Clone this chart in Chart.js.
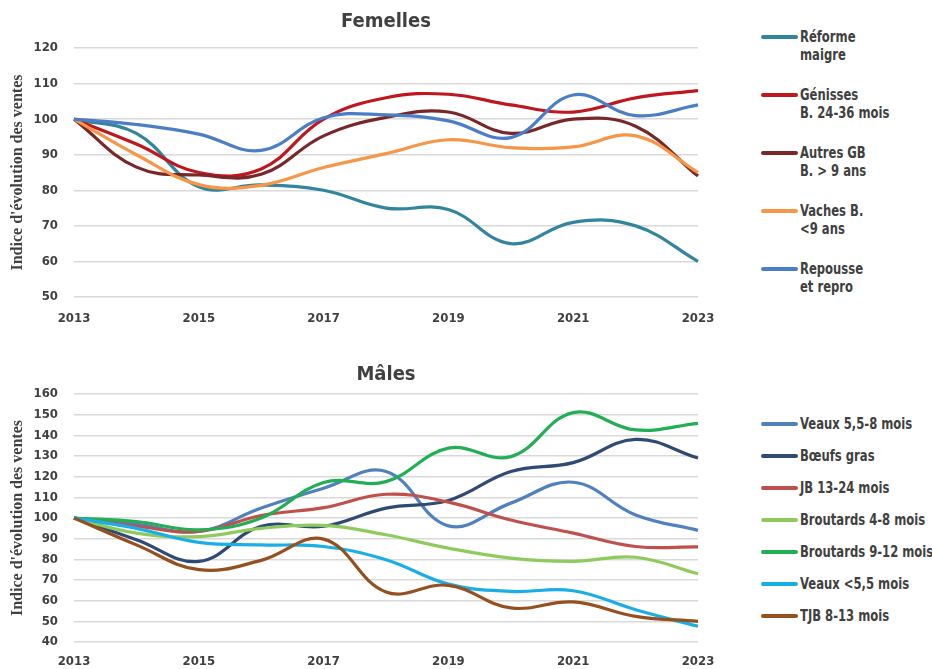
<!DOCTYPE html>
<html>
<head>
<meta charset="utf-8">
<script src="https://cdn.jsdelivr.net/npm/chart.js@4.4.1/dist/chart.umd.min.js"></script>
<style>
  body { margin: 0; background: #fff; }
  #wrap { position: relative; width: 932px; height: 669px; overflow: hidden; }
  .box { position: absolute; left: 0; width: 760px; }
  #boxF { top: 0; height: 330px; }
  #boxM { top: 340px; height: 329px; }
  .legend { position: absolute; left: 761px; margin: 0; padding: 0; list-style: none;
    font-family: 'DejaVu Sans Condensed', sans-serif; font-weight: bold;
    font-size: 15px; color: #404040; }
  .legend li { position: relative; padding-left: 39px; line-height: 18px; white-space: nowrap; }
  .legend li span.sw { position: absolute; left: 0; top: 7px; width: 37px; height: 4px; border-radius: 2px; }
  .legend li span.tx { display: inline-block; white-space: pre; transform: scaleX(0.86); transform-origin: 0 0; }
  #legF { top: 28px; }
  #legF li { margin-bottom: 22px; }
  #legM { top: 415px; }
  #legM li { margin-bottom: 14px; }
</style>
</head>
<body>
<div id="wrap">
  <div class="box" id="boxF"><canvas id="chartF"></canvas></div>
  <div class="box" id="boxM"><canvas id="chartM"></canvas></div>
  <ul class="legend" id="legF"></ul>
  <ul class="legend" id="legM"></ul>
</div>
<script>
//Donnees
const years = ["2013","2014","2015","2016","2017","2018","2019","2020","2021","2022","2023"];

const femLabels = ["Réforme\nmaigre", "Génisses\nB. 24-36 mois", "Autres GB\nB. > 9 ans", "Vaches B.\n<9 ans", "Repousse\net repro"];
const femColors = ["#31859C", "#C0161E", "#782828", "#F79646", "#4A7EC6"];
const reformeMaigre = [100, 96, 81, 81.5, 80, 75, 74.6, 65, 71, 70, 60];
const genisses = [100, 93, 85, 86, 100, 106, 107, 104, 102, 106, 108];
const autresGB = [100, 86.5, 84.3, 84.5, 95.3, 100.5, 102, 96, 100, 98, 84];
const vachesB = [100, 90, 81.6, 81.4, 86.4, 90.3, 94.2, 92, 92.2, 95.3, 85];
const repousse = [100, 98.5, 95.8, 91.2, 100.4, 101.2, 99.5, 94.8, 106.8, 101, 104];

const maleLabels = ["Veaux 5,5-8 mois", "Bœufs gras", "JB 13-24 mois", "Broutards 4-8 mois", "Broutards 9-12 mois", "Veaux <5,5 mois", "TJB 8-13 mois"];
const maleColors = ["#4F81BD", "#2F4A75", "#C0504D", "#8FCB5C", "#22AE52", "#1AAEE6", "#94501E"];
const veaux558 = [100, 97, 93.5, 104.8, 114.4, 122.5, 96.2, 107.2, 117.3, 101.5, 94];
const boeufsGras = [100, 89.5, 79, 96, 96, 104.8, 108.5, 122.5, 126.8, 138, 129];
const jb1324 = [100, 96, 93.5, 101.2, 105, 111.5, 107.7, 99, 92.7, 86.2, 86];
const broutards48 = [100, 92.7, 91, 95, 96.4, 91.9, 85.4, 80.6, 79, 81, 73];
const broutards912 = [100, 98.3, 94.3, 100, 117.2, 117.6, 133.8, 129.7, 151, 142.6, 145.8];
const veauxMoins55 = [100, 95, 88.2, 87, 86.2, 79.8, 68, 64.5, 64.8, 55.6, 47.6];
const tjb813 = [100, 87, 75, 79.5, 89.8, 64.2, 67.4, 56.5, 59.4, 52.4, 50];

const TEXT = "#404040";
const NARROW = "'DejaVu Sans Condensed', sans-serif";

function makeDatasets(labels, colors, series) {
  return series.map((s, i) => ({
    label: labels[i],
    data: s,
    borderColor: colors[i],
    backgroundColor: colors[i],
    borderWidth: 3.2,
    pointRadius: 0,
    tension: 0.4,
    order: series.length - i
  }));
}

function makeChart(id, title, datasets, yMin, yMax, titlePad, axisH, xPad) {
  return new Chart(document.getElementById(id), {
    type: "line",
    data: { labels: years, datasets },
    options: {
      responsive: true,
      maintainAspectRatio: false,
      animation: false,
      layout: { padding: { left: 0, right: 62, top: 0, bottom: 0 } },
      plugins: {
        legend: { display: false },
        tooltip: { enabled: false },
        title: {
          display: true,
          fullSize: false,
          text: title,
          color: TEXT,
          font: { family: NARROW, size: 20, weight: "bold", lineHeight: 1.2 },
          padding: titlePad
        }
      },
      scales: {
        x: {
          grid: { display: false },
          border: { display: false },
          afterFit: s => { s.height = axisH; },
          ticks: {
            autoSkip: false,
            maxRotation: 0,
            padding: xPad,
            color: TEXT,
            font: { family: NARROW, size: 13, weight: "bold" },
            callback: (v, i) => (i % 2 === 0 ? years[i] : "")
          }
        },
        y: {
          min: yMin,
          max: yMax,
          afterFit: s => { s.width = 74; },
          border: { display: false },
          grid: { color: "#D9D9D9", lineWidth: 1.5, drawTicks: false },
          ticks: {
            stepSize: 10,
            padding: 16,
            color: TEXT,
            font: { family: NARROW, size: 13, weight: "bold" }
          },
          title: {
            display: true,
            text: "Indice d'évolution des ventes",
            color: TEXT,
            padding: { top: 8, bottom: 0 },
            font: { family: "'Liberation Serif', serif", size: 16, weight: "bold" }
          }
        }
      }
    }
  });
}

function renderLegend(ulId, chart) {
  document.getElementById(ulId).innerHTML = chart.data.datasets
    .map(d => `<li><span class="sw" style="background:${d.borderColor}"></span><span class="tx">${d.label}</span></li>`)
    .join("");
}

const chartF = makeChart("chartF", "Femelles",
  makeDatasets(femLabels, femColors, [reformeMaigre, genisses, autresGB, vachesB, repousse]),
  50, 120, { top: 10, bottom: 14 }, 33, 6);

const chartM = makeChart("chartM", "Mâles",
  makeDatasets(maleLabels, maleColors, [veaux558, boeufsGras, jb1324, broutards48, broutards912, veauxMoins55, tjb813]),
  40, 160, { top: 23, bottom: 7 }, 27, 4);

renderLegend("legF", chartF);
renderLegend("legM", chartM);
</script>
</body>
</html>
